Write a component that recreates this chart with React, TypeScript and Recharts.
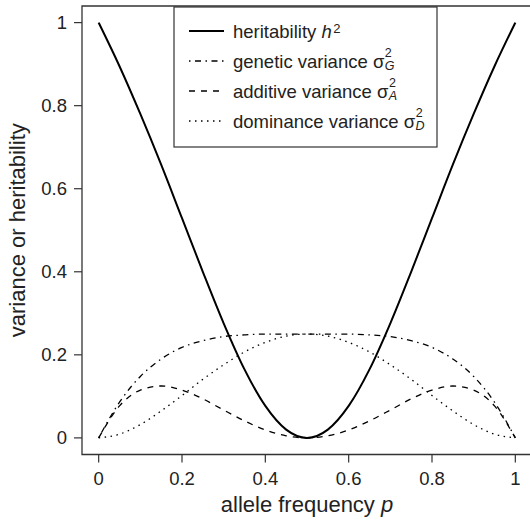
import React from "react"
import { LineChart, Line, XAxis, YAxis, ReferenceArea, Label } from "recharts"

// allele frequency p
const P = [0, 0.05, 0.1, 0.15, 0.2, 0.25, 0.3, 0.35, 0.4, 0.45, 0.5, 0.55, 0.6, 0.65, 0.7, 0.75, 0.8, 0.85, 0.9, 0.95, 1]
// heritability h^2
const H2 = [1, 0.895, 0.78, 0.658, 0.529, 0.4, 0.276, 0.165, 0.077, 0.02, 0, 0.02, 0.077, 0.165, 0.276, 0.4, 0.529, 0.658, 0.78, 0.895, 1]
// genetic variance
const VG = [0, 0.086, 0.148, 0.19, 0.218, 0.234, 0.244, 0.248, 0.25, 0.25, 0.25, 0.25, 0.25, 0.248, 0.244, 0.234, 0.218, 0.19, 0.148, 0.086, 0]
// additive variance
const VA = [0, 0.077, 0.115, 0.125, 0.115, 0.094, 0.067, 0.041, 0.019, 0.005, 0, 0.005, 0.019, 0.041, 0.067, 0.094, 0.115, 0.125, 0.115, 0.077, 0]
// dominance variance
const VD = [0, 0.009, 0.032, 0.065, 0.102, 0.141, 0.176, 0.207, 0.23, 0.245, 0.25, 0.245, 0.23, 0.207, 0.176, 0.141, 0.102, 0.065, 0.032, 0.009, 0]

const TICKS = [0, 0.2, 0.4, 0.6, 0.8, 1]
const TICK_LABELS = ["0", "0.2", "0.4", "0.6", "0.8", "1"]

const data = P.map((p, i) => ({ p, h2: H2[i], g: VG[i], a: VA[i], d: VD[i] }))

const FONT = "'Liberation Sans', Arial, Helvetica, sans-serif"
const INK = "#222"
const FRAME = "#333"

const SERIES = [
    { key: "h2", dash: undefined, width: 2 },
    { key: "g", dash: "1.5 4.5 6 4.5", width: 1.3 },
    { key: "a", dash: "6 6", width: 1.3 },
    { key: "d", dash: "1.5 4.5", width: 1.3 },
]

const fmt = (v: number) => TICK_LABELS[TICKS.indexOf(v)] ?? String(v)

function XLabel(props: any) {
    const vb = props.viewBox || { x: 82, y: 454.5, width: 450, height: 65.5 }
    return (
        <text x={vb.x + vb.width / 2} y={vb.y + 57.5} textAnchor="middle" fontSize={22} fontFamily={FONT} fill={INK}>
            allele frequency <tspan fontStyle="italic">p</tspan>
        </text>
    )
}

function YLabel(props: any) {
    const vb = props.viewBox || { x: 0, y: 6, width: 82, height: 448.5 }
    const cy = vb.y + vb.height / 2
    return (
        <text x={25} y={cy} transform={`rotate(-90 25 ${cy})`} textAnchor="middle" fontSize={22} fontFamily={FONT} fill={INK}>
            variance or heritability
        </text>
    )
}

function SigmaTerm({ sub }: { sub: string }) {
    return (
        <>
            σ
            <tspan dx={0.5} dy={-10.5} fontSize={12.5}>2</tspan>
            <tspan dx={-7} dy={13} fontSize={12.5} fontStyle="italic">{sub}</tspan>
        </>
    )
}

function LegendBox() {
    const rows = [
        <>heritability <tspan fontStyle="italic">h</tspan><tspan dx={1.5} dy={-4.5} fontSize={13}>2</tspan></>,
        <>genetic variance <SigmaTerm sub="G" /></>,
        <>additive variance <SigmaTerm sub="A" /></>,
        <>dominance variance <SigmaTerm sub="D" /></>,
    ]
    return (
        <svg width={530} height={520} style={{ position: "absolute", left: 0, top: 0, pointerEvents: "none" }}>
            <rect x={174} y={7} width={263} height={140} fill="#fff" stroke={FRAME} strokeWidth={1.2} />
            {SERIES.map((s, i) => {
                const y = 31 + i * 30
                return (
                    <g key={s.key}>
                        <line x1={189} x2={224} y1={y} y2={y} stroke="#000" strokeWidth={s.width} strokeDasharray={s.dash} />
                        <text x={233} y={y + 6.5} fontSize={18.5} fontFamily={FONT} fill={INK}>{rows[i]}</text>
                    </g>
                )
            })}
        </svg>
    )
}

export default function App() {
    return (
        <div style={{ position: "absolute", left: 0, top: 0, width: 530, height: 520, overflow: "hidden", background: "#fff" }}>
            <LineChart width={534} height={520} data={data} margin={{ top: 6, right: 2, bottom: 0, left: 0 }}>
                <XAxis
                    dataKey="p"
                    type="number"
                    domain={[-0.04, 1.04]}
                    ticks={TICKS}
                    tickFormatter={fmt}
                    allowDataOverflow
                    height={65.5}
                    axisLine={false}
                    tickSize={8}
                    tickMargin={9}
                    tickLine={{ stroke: FRAME, strokeWidth: 1.2 }}
                    tick={{ fontSize: 18.5, fill: INK, fontFamily: FONT }}
                    interval={0}
                >
                    <Label content={XLabel} />
                </XAxis>
                <YAxis
                    type="number"
                    domain={[-0.04, 1.04]}
                    ticks={TICKS}
                    tickFormatter={fmt}
                    allowDataOverflow
                    width={82}
                    axisLine={false}
                    tickSize={8}
                    tickMargin={7}
                    tickLine={{ stroke: FRAME, strokeWidth: 1.2 }}
                    tick={{ fontSize: 18.5, fill: INK, fontFamily: FONT }}
                    interval={0}
                >
                    <Label content={YLabel} />
                </YAxis>
                <ReferenceArea x1={-0.04} x2={1.04} y1={-0.04} y2={1.04} fill="none" fillOpacity={0} stroke={FRAME} strokeWidth={1.3} />
                {SERIES.map((s) => (
                    <Line
                        key={s.key}
                        dataKey={s.key}
                        type="monotone"
                        stroke="#000"
                        strokeWidth={s.width}
                        strokeDasharray={s.dash}
                        dot={false}
                        activeDot={false}
                        isAnimationActive={false}
                    />
                ))}
            </LineChart>
            <LegendBox />
        </div>
    )
}
